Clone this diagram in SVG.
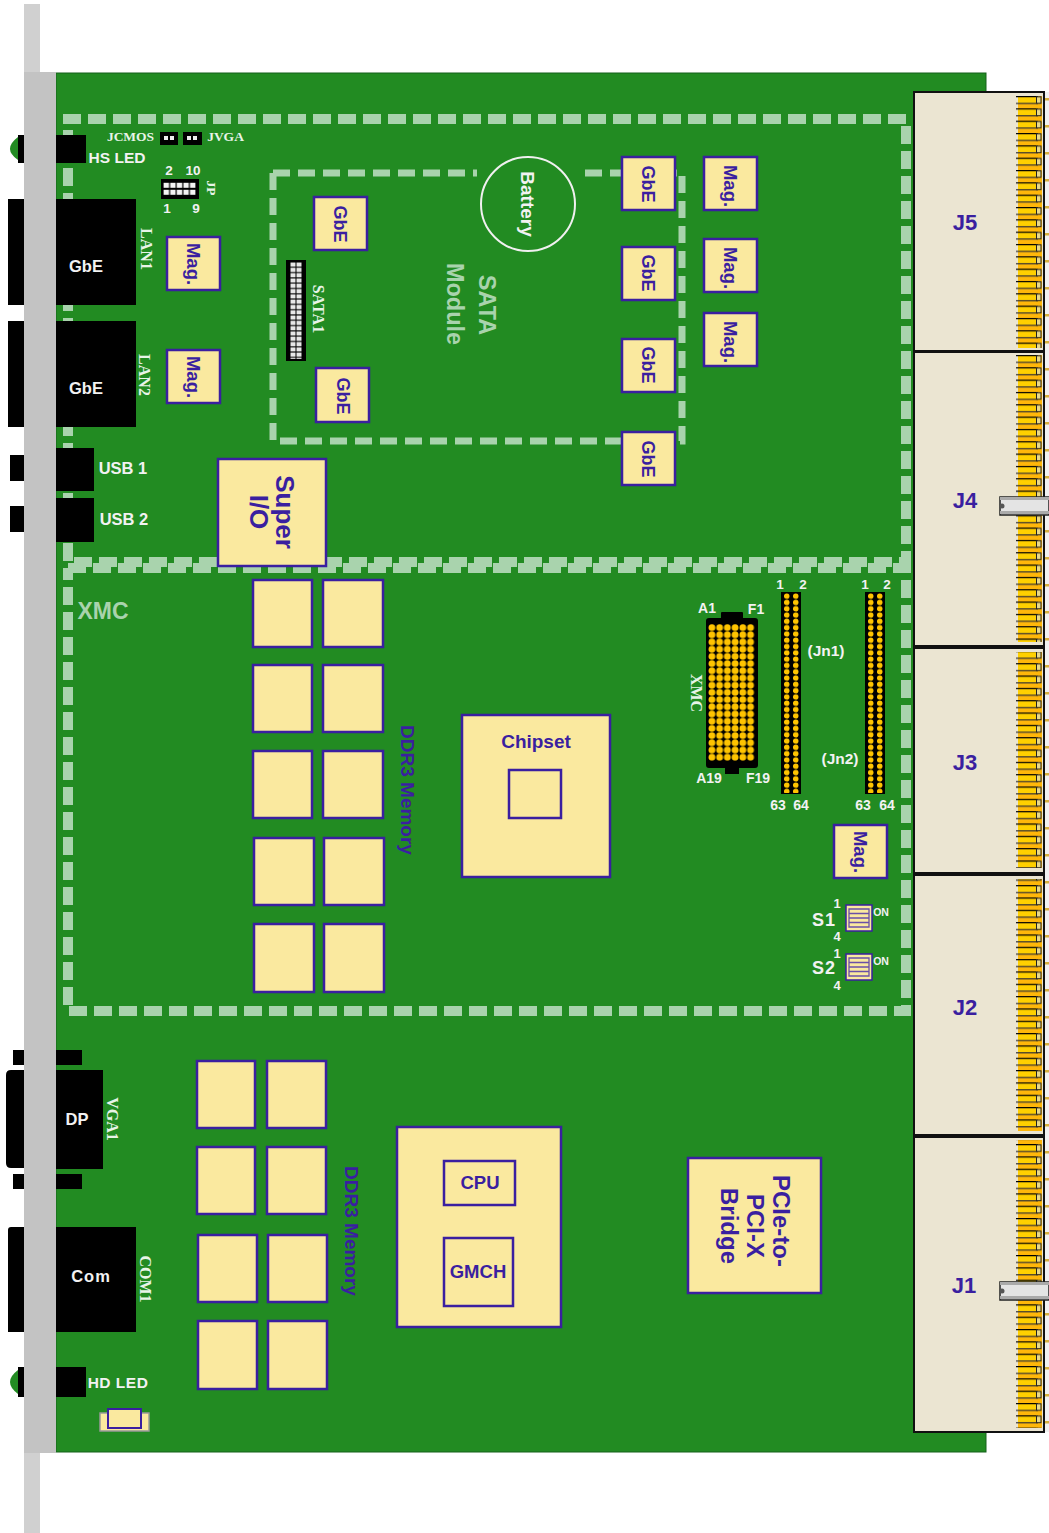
<svg xmlns="http://www.w3.org/2000/svg" width="1049" height="1533" viewBox="0 0 1049 1533">
<style>
text{font-family:"Liberation Sans",Arial,sans-serif}
.box{fill:#fae99f;stroke:#3a1fa0;stroke-width:2.5}
.blk{fill:#000}
.dash{fill:none;stroke:#a9d3ad;stroke-width:10;stroke-dasharray:18 7}
.dash2{fill:none;stroke:#a9d3ad;stroke-width:7;stroke-dasharray:17 8}
.lab{fill:#3a1fa0;font-weight:bold;text-anchor:middle}
.w{fill:#f2f2f2;font-weight:bold;text-anchor:middle}
.s{fill:#e8f4e8;font-family:"Liberation Serif",serif;font-weight:bold;text-anchor:middle;font-size:13.5px}
.r{fill:#e8f4e8;font-family:"Liberation Serif",serif;font-weight:bold;text-anchor:middle;font-size:16px}
.sata{fill:#a9d3ad;font-weight:bold;text-anchor:middle;font-size:23.5px}
.conn{fill:#ebe5d2;stroke:#111;stroke-width:2}
</style>
<defs>
<pattern id="teeth" patternUnits="userSpaceOnUse" x="1016" y="96" width="26" height="12.33">
<rect x="2" width="24" height="12.33" fill="#ffb70a"/>
<rect x="2" y="1" width="22" height="6" fill="#ffd000"/>
<rect y="0" width="22" height="1.2" fill="#000"/>
<rect y="6.8" width="22" height="1.2" fill="#333"/>
<rect x="20.5" y="0.8" width="4.5" height="6.500" fill="#e9d98a" stroke="#222" stroke-width="1"/>
</pattern>
<pattern id="edge" patternUnits="userSpaceOnUse" x="1045" y="96" width="4" height="27">
<rect y="2" width="4" height="2.5" fill="#d6b040"/>
</pattern>
<pattern id="dip" patternUnits="userSpaceOnUse" x="784" y="593" width="9" height="6.3">
<circle cx="2.7" cy="3.15" r="2.8" fill="#ffc400"/>
</pattern>
<pattern id="dip2" patternUnits="userSpaceOnUse" x="868" y="593" width="9" height="6.3">
<circle cx="2.7" cy="3.15" r="2.8" fill="#ffc400"/>
</pattern>
<pattern id="xmcp" patternUnits="userSpaceOnUse" x="708" y="624" width="7.73" height="7.2">
<circle cx="3.9" cy="3.6" r="3.4" fill="#ffc400"/>
</pattern>
<pattern id="satap" patternUnits="userSpaceOnUse" x="290" y="262" width="6" height="5.3">
<rect x="0.5" y="0.5" width="5" height="4.2" fill="#e8e8e8"/>
</pattern>
<pattern id="jpp" patternUnits="userSpaceOnUse" x="163" y="182" width="6.6" height="7">
<rect x="0.6" y="0.8" width="5.4" height="5" fill="#f4f4f4"/>
</pattern>
</defs>

<rect id="bracket-top" x="24" y="4" width="16" height="68" fill="#d0d0d0"/>
<rect id="bracket-bottom" x="24" y="1452" width="16" height="81" fill="#d0d0d0"/>
<rect id="board" x="56" y="73" width="930" height="1379" fill="#228b22" stroke="#14601a" stroke-width="1"/>
<rect id="edge-strip" x="1044" y="92" width="5" height="1340" fill="#f1f1f1"/>

<g id="regions">
<path class="dash" d="M63 119H906V562H68V130"/>
<path class="dash" d="M68 568H906V1011H68V568"/>
<path class="dash2" d="M273 173H477M585 173H682V441H273V173"/>
</g>

<g id="front-bracket"><rect x="24" y="72" width="32" height="1381" fill="#c3c3c3"/></g>

<g id="hs-led">
<path d="M18 137Q2 149 18 160Z" fill="#228b22"/><rect class="blk" x="18" y="135" width="6" height="28"/>
<rect class="blk" x="56" y="135" width="30" height="28"/>
<text x="117" y="163" font-size="15.5" class="w">HS LED</text>
</g>
<g id="jumpers">
<rect class="blk" x="160" y="132" width="18" height="13"/><rect x="164" y="136" width="4" height="4" fill="#eee"/><rect x="170" y="136" width="4" height="4" fill="#eee"/>
<rect class="blk" x="183" y="132" width="19" height="13"/><rect x="187" y="136" width="4" height="4" fill="#eee"/><rect x="193" y="136" width="4" height="4" fill="#eee"/>
<text x="130.500" y="141" class="s">JCMOS</text>
<text x="225.500" y="141" class="s">JVGA</text>
</g>
<g id="jp">
<rect class="blk" x="161" y="179" width="38" height="20"/>
<rect x="163" y="182" width="33" height="14" fill="url(#jpp)"/>
<text x="169" y="175" class="w" font-size="13.5">2</text><text x="193" y="175" class="w" font-size="13.5">10</text>
<text x="167" y="213" class="w" font-size="13.5">1</text><text x="196" y="213" class="w" font-size="13.5">9</text>
<text transform="translate(207,188) rotate(90)" class="s">JP</text>
</g>
<g id="lan1">
<rect class="blk" x="8" y="199" width="16" height="106"/><rect class="blk" x="56" y="199" width="80" height="106"/>
<text x="86" y="272" class="w" font-size="16.5">GbE</text>
<text transform="translate(141,249) rotate(90)" class="r">LAN1</text>
</g>
<g id="lan2">
<rect class="blk" x="8" y="321" width="16" height="106"/><rect class="blk" x="56" y="321" width="80" height="106"/>
<text x="86" y="394" class="w" font-size="16.5">GbE</text>
<text transform="translate(139,375) rotate(90)" class="r">LAN2</text>
</g>
<g id="usb1"><rect class="blk" x="10" y="455" width="14" height="26"/><rect class="blk" x="56" y="448" width="38" height="43"/><text x="123" y="474" class="w" font-size="16.5">USB 1</text></g>
<g id="usb2"><rect class="blk" x="10" y="506" width="14" height="26"/><rect class="blk" x="56" y="498" width="38" height="44"/><text x="124" y="525" class="w" font-size="16.5">USB 2</text></g>

<g id="mag1"><rect class="box" x="167" y="237" width="53" height="53"/><text transform="translate(187,264) rotate(90)" class="lab" font-size="18.500">Mag.</text></g>
<g id="mag2"><rect class="box" x="167" y="350" width="53" height="53"/><text transform="translate(187,377) rotate(90)" class="lab" font-size="18.500">Mag.</text></g>
<g id="gbe1"><rect class="box" x="314" y="197" width="53" height="53"/><text transform="translate(334,224) rotate(90)" class="lab" font-size="18">GbE</text></g>
<g id="gbe2"><rect class="box" x="316" y="368" width="53" height="54"/><text transform="translate(337,396) rotate(90)" class="lab" font-size="18">GbE</text></g>
<g id="sata1">
<rect class="blk" x="286" y="260" width="20" height="101"/>
<rect x="290" y="262" width="12" height="97" fill="url(#satap)"/>
<text transform="translate(313,309) rotate(90)" class="r">SATA1</text>
</g>
<g id="battery"><circle cx="528" cy="204" r="47" fill="#228b22" stroke="#f0f0f0" stroke-width="2"/><text transform="translate(521,204) rotate(90)" font-size="19" font-weight="bold" text-anchor="middle" fill="#f2f2f2">Battery</text></g>
<g id="sata-module">
<text transform="translate(479,305) rotate(90)" class="sata">SATA</text>
<text transform="translate(447,304) rotate(90)" class="sata">Module</text>
</g>
<g id="gbe3"><rect class="box" x="622" y="157" width="53" height="53"/><text transform="translate(642,184) rotate(90)" class="lab" font-size="18">GbE</text></g>
<g id="gbe4"><rect class="box" x="622" y="247" width="53" height="53"/><text transform="translate(642,273) rotate(90)" class="lab" font-size="18">GbE</text></g>
<g id="gbe5"><rect class="box" x="622" y="339" width="53" height="53"/><text transform="translate(642,365) rotate(90)" class="lab" font-size="18">GbE</text></g>
<g id="gbe6"><rect class="box" x="622" y="432" width="53" height="53"/><text transform="translate(642,459) rotate(90)" class="lab" font-size="18">GbE</text></g>
<g id="mag3"><rect class="box" x="704" y="157" width="53" height="53"/><text transform="translate(724,186) rotate(90)" class="lab" font-size="18.500">Mag.</text></g>
<g id="mag4"><rect class="box" x="704" y="239" width="53" height="53"/><text transform="translate(724,268) rotate(90)" class="lab" font-size="18.500">Mag.</text></g>
<g id="mag5"><rect class="box" x="704" y="313" width="53" height="53"/><text transform="translate(724,342) rotate(90)" class="lab" font-size="18.500">Mag.</text></g>
<g id="super-io"><rect class="box" x="218" y="459" width="108" height="107"/>
<text transform="translate(276,512) rotate(90)" class="lab" font-size="26">Super</text>
<text transform="translate(250,512) rotate(90)" class="lab" font-size="26">I/O</text></g>

<text id="xmc-label" x="103" y="619" font-size="23" font-weight="bold" fill="#a9d3ad" text-anchor="middle">XMC</text>
<g id="ddr-upper">
<rect class="box" x="253" y="580" width="59" height="67"/><rect class="box" x="323" y="580" width="60" height="67"/>
<rect class="box" x="253" y="665" width="59" height="67"/><rect class="box" x="323" y="665" width="60" height="67"/>
<rect class="box" x="253" y="751" width="59" height="67"/><rect class="box" x="323" y="751" width="60" height="67"/>
<rect class="box" x="254" y="838" width="60" height="67"/><rect class="box" x="324" y="838" width="60" height="67"/>
<rect class="box" x="254" y="924" width="60" height="68"/><rect class="box" x="324" y="924" width="60" height="68"/>
<text transform="translate(401,790) rotate(90)" class="lab" font-size="19">DDR3 Memory</text>
</g>
<g id="chipset"><rect class="box" x="462" y="715" width="148" height="162"/><rect class="box" x="509" y="770" width="52" height="48"/><text x="536" y="748" class="lab" font-size="19">Chipset</text></g>
<g id="xmc-conn">
<path class="blk" d="M721 618V613Q721 612 722 612H742Q743 612 743 613V618H755Q758 618 758 621V765Q758 768 755 768H739V774H725V768H709Q706 768 706 765V621Q706 618 709 618Z"/>
<rect x="708" y="624" width="46.4" height="136.8" fill="url(#xmcp)"/>
<text x="707" y="613" class="w" font-size="14">A1</text><text x="756" y="614" class="w" font-size="14">F1</text>
<text x="709" y="783" class="w" font-size="14">A19</text><text x="758" y="783" class="w" font-size="14">F19</text>
<text transform="translate(691,693) rotate(90)" class="r">XMC</text>
</g>
<g id="jn1">
<rect class="blk" x="781" y="592" width="20" height="202"/>
<rect x="784" y="593" width="18" height="200" fill="url(#dip)"/>
<text x="780" y="589" class="w" font-size="13.5">1</text><text x="803" y="589" class="w" font-size="13.5">2</text>
<text x="778" y="810" class="w" font-size="14">63</text><text x="801" y="810" class="w" font-size="14">64</text>
<text x="826" y="656" class="w" font-size="15.5">(Jn1)</text>
</g>
<g id="jn2">
<rect class="blk" x="865" y="592" width="20" height="202"/>
<rect x="868" y="593" width="18" height="200" fill="url(#dip2)"/>
<text x="865" y="589" class="w" font-size="13.5">1</text><text x="887" y="589" class="w" font-size="13.5">2</text>
<text x="863" y="810" class="w" font-size="14">63</text><text x="887" y="810" class="w" font-size="14">64</text>
<text x="840" y="764" class="w" font-size="15.5">(Jn2)</text>
</g>
<g id="mag6"><rect class="box" x="834" y="825" width="53" height="53"/><text transform="translate(854,852) rotate(90)" class="lab" font-size="18.500">Mag.</text></g>
<g id="s1">
<rect x="846" y="905" width="26" height="26" fill="#fae99f" stroke="#3a1fa0" stroke-width="1.5"/>
<path d="M849 909H869V927H849ZM849 913.5H869M849 918H869M849 922.500H869" fill="none" stroke="#6a50a8" stroke-width="1.3"/>
<text x="881" y="916" class="w" font-size="10.500">ON</text>
<text x="824" y="926" class="w" font-size="18" letter-spacing="1">S1</text><text x="837" y="908" class="w" font-size="13">1</text><text x="837" y="941" class="w" font-size="13">4</text>
</g>
<g id="s2">
<rect x="846" y="954" width="26" height="26" fill="#fae99f" stroke="#3a1fa0" stroke-width="1.5"/>
<path d="M849 958H869V976H849ZM849 962.500H869M849 967H869M849 971.500H869" fill="none" stroke="#6a50a8" stroke-width="1.3"/>
<text x="881" y="965" class="w" font-size="10.500">ON</text>
<text x="824" y="974" class="w" font-size="18" letter-spacing="1">S2</text><text x="837" y="958" class="w" font-size="13">1</text><text x="837" y="990" class="w" font-size="13">4</text>
</g>

<g id="vga1">
<rect class="blk" x="13" y="1050" width="11" height="15"/><rect class="blk" x="56" y="1050" width="26" height="15"/>
<rect class="blk" x="13" y="1174" width="11" height="15"/><rect class="blk" x="56" y="1174" width="26" height="15"/>
<path class="blk" d="M24 1070H11Q6 1070 6 1075V1163Q6 1168 11 1168H24Z"/>
<rect class="blk" x="56" y="1070" width="47" height="99"/>
<text x="77" y="1125" class="w" font-size="16.500">DP</text>
<text transform="translate(107,1119) rotate(90)" class="r">VGA1</text>
</g>
<g id="com1">
<path class="blk" d="M24 1227H11Q8 1227 8 1230V1332H24Z"/>
<rect class="blk" x="56" y="1227" width="80" height="105"/>
<text x="91" y="1282" class="w" font-size="16.500" letter-spacing="1">Com</text>
<text transform="translate(140,1279) rotate(90)" class="r">COM1</text>
</g>
<g id="hd-led">
<path d="M18 1370Q2 1382 18 1394Z" fill="#228b22"/><rect class="blk" x="18" y="1367" width="6" height="30"/>
<rect class="blk" x="56" y="1367" width="30" height="30"/>
<text x="118" y="1388" class="w" font-size="15.500" letter-spacing="0.500">HD LED</text>
</g>
<g id="ddr-lower">
<rect class="box" x="197" y="1061" width="58" height="67"/><rect class="box" x="267" y="1061" width="59" height="67"/>
<rect class="box" x="197" y="1147" width="58" height="67"/><rect class="box" x="267" y="1147" width="59" height="67"/>
<rect class="box" x="198" y="1235" width="59" height="67"/><rect class="box" x="268" y="1235" width="59" height="67"/>
<rect class="box" x="198" y="1321" width="59" height="68"/><rect class="box" x="268" y="1321" width="59" height="68"/>
<text transform="translate(345,1231) rotate(90)" class="lab" font-size="19">DDR3 Memory</text>
</g>
<g id="cpu-block">
<rect class="box" x="397" y="1127" width="164" height="200"/>
<rect class="box" x="444" y="1161" width="71" height="44"/><text x="480" y="1189" class="lab" font-size="18.500">CPU</text>
<rect class="box" x="444" y="1238" width="69" height="68"/><text x="478" y="1278" class="lab" font-size="18.500">GMCH</text>
</g>
<g id="bridge">
<rect class="box" x="688" y="1158" width="133" height="135"/>
<text transform="translate(773,1221) rotate(90)" class="lab" font-size="24">PCIe-to-</text>
<text transform="translate(747,1226) rotate(90)" class="lab" font-size="24">PCI-X</text>
<text transform="translate(721,1226) rotate(90)" class="lab" font-size="24">Bridge</text>
</g>
<g id="fuse"><rect x="100" y="1413" width="49" height="18" fill="#fae99f" stroke="#999" stroke-width="1.500"/><rect x="108" y="1409" width="33" height="19" fill="#fae99f" stroke="#3a1fa0" stroke-width="2"/></g>

<g id="j5"><rect class="conn" x="914" y="92" width="130" height="259"/><rect x="1016" y="96" width="26" height="252" fill="url(#teeth)"/><rect x="1045" y="96" width="4" height="252" fill="url(#edge)"/><text x="965" y="230" class="lab" font-size="22">J5</text></g>
<g id="j4"><rect class="conn" x="914" y="352" width="130" height="294"/><rect x="1016" y="355" width="26" height="287" fill="url(#teeth)"/><rect x="1045" y="355" width="4" height="287" fill="url(#edge)"/><text x="965" y="508" class="lab" font-size="22">J4</text>
<rect x="1000" y="497" width="49" height="18" fill="#e4e4e4" stroke="#222" stroke-width="1.500"/><rect x="1000" y="497" width="49" height="3" fill="#aaa"/><rect x="1000" y="511" width="49" height="3" fill="#aaa"/><circle cx="1002" cy="506" r="2.500" fill="#555"/></g>
<g id="j3"><rect class="conn" x="914" y="648" width="130" height="225"/><rect x="1016" y="652" width="26" height="216" fill="url(#teeth)"/><rect x="1045" y="652" width="4" height="216" fill="url(#edge)"/><text x="965" y="770" class="lab" font-size="22">J3</text></g>
<g id="j2"><rect class="conn" x="914" y="875" width="130" height="260"/><rect x="1016" y="879" width="26" height="252" fill="url(#teeth)"/><rect x="1045" y="879" width="4" height="252" fill="url(#edge)"/><text x="965" y="1015" class="lab" font-size="22">J2</text></g>
<g id="j1"><rect class="conn" x="914" y="1137" width="130" height="295"/><rect x="1016" y="1140" width="26" height="288" fill="url(#teeth)"/><rect x="1045" y="1140" width="4" height="288" fill="url(#edge)"/><text x="964" y="1293" class="lab" font-size="22">J1</text>
<rect x="1000" y="1282" width="49" height="18" fill="#e4e4e4" stroke="#222" stroke-width="1.500"/><rect x="1000" y="1282" width="49" height="3" fill="#aaa"/><rect x="1000" y="1296" width="49" height="3" fill="#aaa"/><circle cx="1002" cy="1291" r="2.500" fill="#555"/></g>
</svg>
